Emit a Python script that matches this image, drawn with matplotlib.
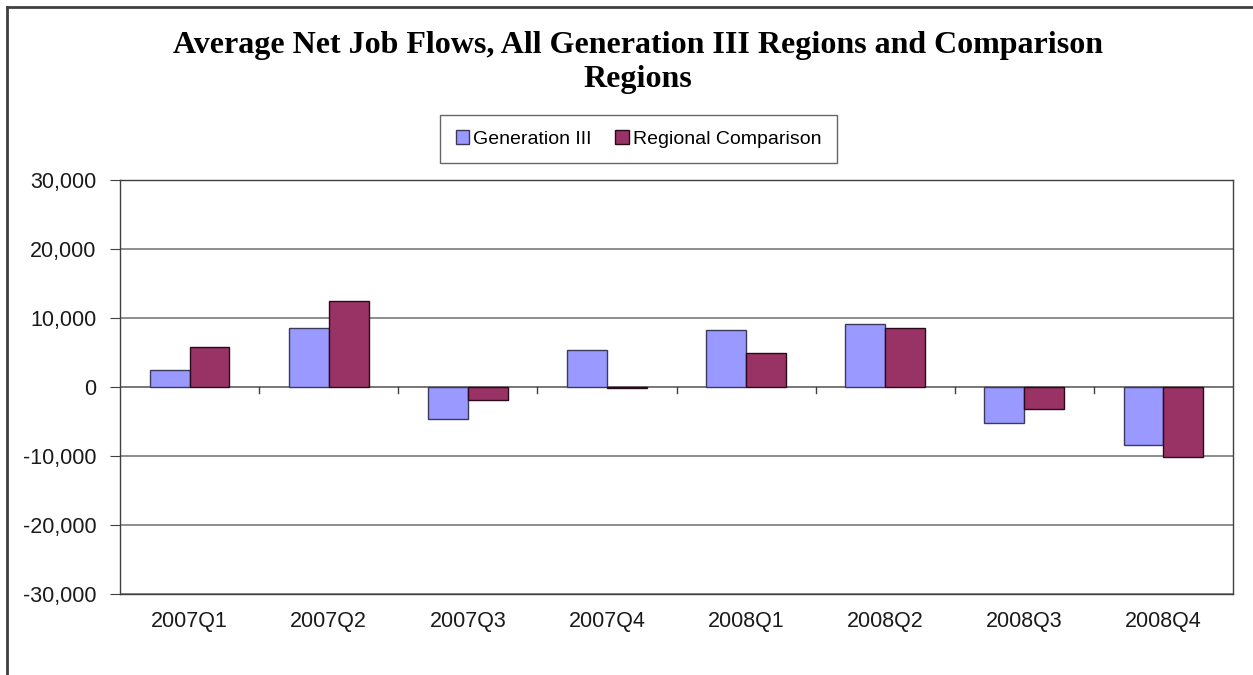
import numpy as np
import matplotlib
matplotlib.use("Agg")
import matplotlib.pyplot as plt
from matplotlib.lines import Line2D
from matplotlib.ticker import FuncFormatter, FixedLocator

plt.rcParams["font.family"] = ["Liberation Sans", "DejaVu Sans"]

# Quarterly average net job flows
quarters = ["2007Q1", "2007Q2", "2007Q3", "2007Q4", "2008Q1", "2008Q2", "2008Q3", "2008Q4"]
gen3 = [2450, 8610, -4660, 5380, 8320, 9190, -5190, -8420]
regional = [5770, 12510, -1920, -100, 4900, 8510, -3220, -10150]

W, H = 1253, 675
fig = plt.figure(figsize=(W / 100, H / 100), dpi=100)
fig.patch.set_facecolor("white")

# outer chart frame (left and top edges visible)
fig.add_artist(Line2D([7 / W, 7 / W], [0, 1 - 7 / H], transform=fig.transFigure, color="#404040", lw=2))
fig.add_artist(Line2D([7 / W, 1], [1 - 7 / H, 1 - 7 / H], transform=fig.transFigure, color="#404040", lw=2))

ax = fig.add_axes([120 / W, 1 - 594 / H, (1233 - 120) / W, (594 - 180) / H])

x = np.arange(len(quarters))
bw = 0.287
ax.bar(x - bw / 2, gen3, bw, color="#9999FF", edgecolor="#3a3a5a", linewidth=1, label="Generation III", zorder=3)
ax.bar(x + bw / 2, regional, bw, color="#993366", edgecolor="#2a0a1a", linewidth=1, label="Regional Comparison", zorder=3)

ax.set_xlim(-0.5, len(quarters) - 0.5)
ax.set_ylim(-30000, 30000)
ax.yaxis.set_major_locator(FixedLocator(np.arange(-30000, 30001, 10000)))
ax.yaxis.set_major_formatter(FuncFormatter(lambda v, p: f"{int(v):,}"))
ax.grid(axis="y", color="#7a7a7a", linewidth=1.2, zorder=0)
ax.tick_params(axis="y", labelsize=15.5, length=7, color="#404040", labelcolor="#1a1a1a", pad=10)

for s in ax.spines.values():
    s.set_color("#404040")
    s.set_linewidth(1)

# category labels along the bottom, tick marks on the zero line
ax.set_xticks(x)
ax.set_xticklabels(quarters, fontsize=15.5, color="#1a1a1a")
ax.tick_params(axis="x", length=0, pad=12)
ax.axhline(0, color="#7a7a7a", linewidth=1.4, zorder=2)
for b in np.arange(0.5, len(quarters) - 0.5, 1):
    ax.plot([b, b], [0, -850], color="#404040", lw=1, zorder=2, clip_on=False)

fig.text(638 / W, 1 - 46 / H, "Average Net Job Flows, All Generation III Regions and Comparison",
         ha="center", va="center", fontsize=23, fontweight="bold", family="Liberation Serif")
fig.text(638 / W, 1 - 80 / H, "Regions",
         ha="center", va="center", fontsize=23, fontweight="bold", family="Liberation Serif")

leg = fig.legend(loc="center", bbox_to_anchor=(638.5 / W, 1 - 139 / H), ncol=2, fontsize=14,
                 frameon=True, fancybox=False, handlelength=0.7, handleheight=0.7,
                 handletextpad=0.2, columnspacing=1.2, borderpad=0.8)
leg.get_frame().set_edgecolor("#404040")
leg.get_frame().set_linewidth(1)

fig.savefig("out.png", dpi=100, facecolor="white")
